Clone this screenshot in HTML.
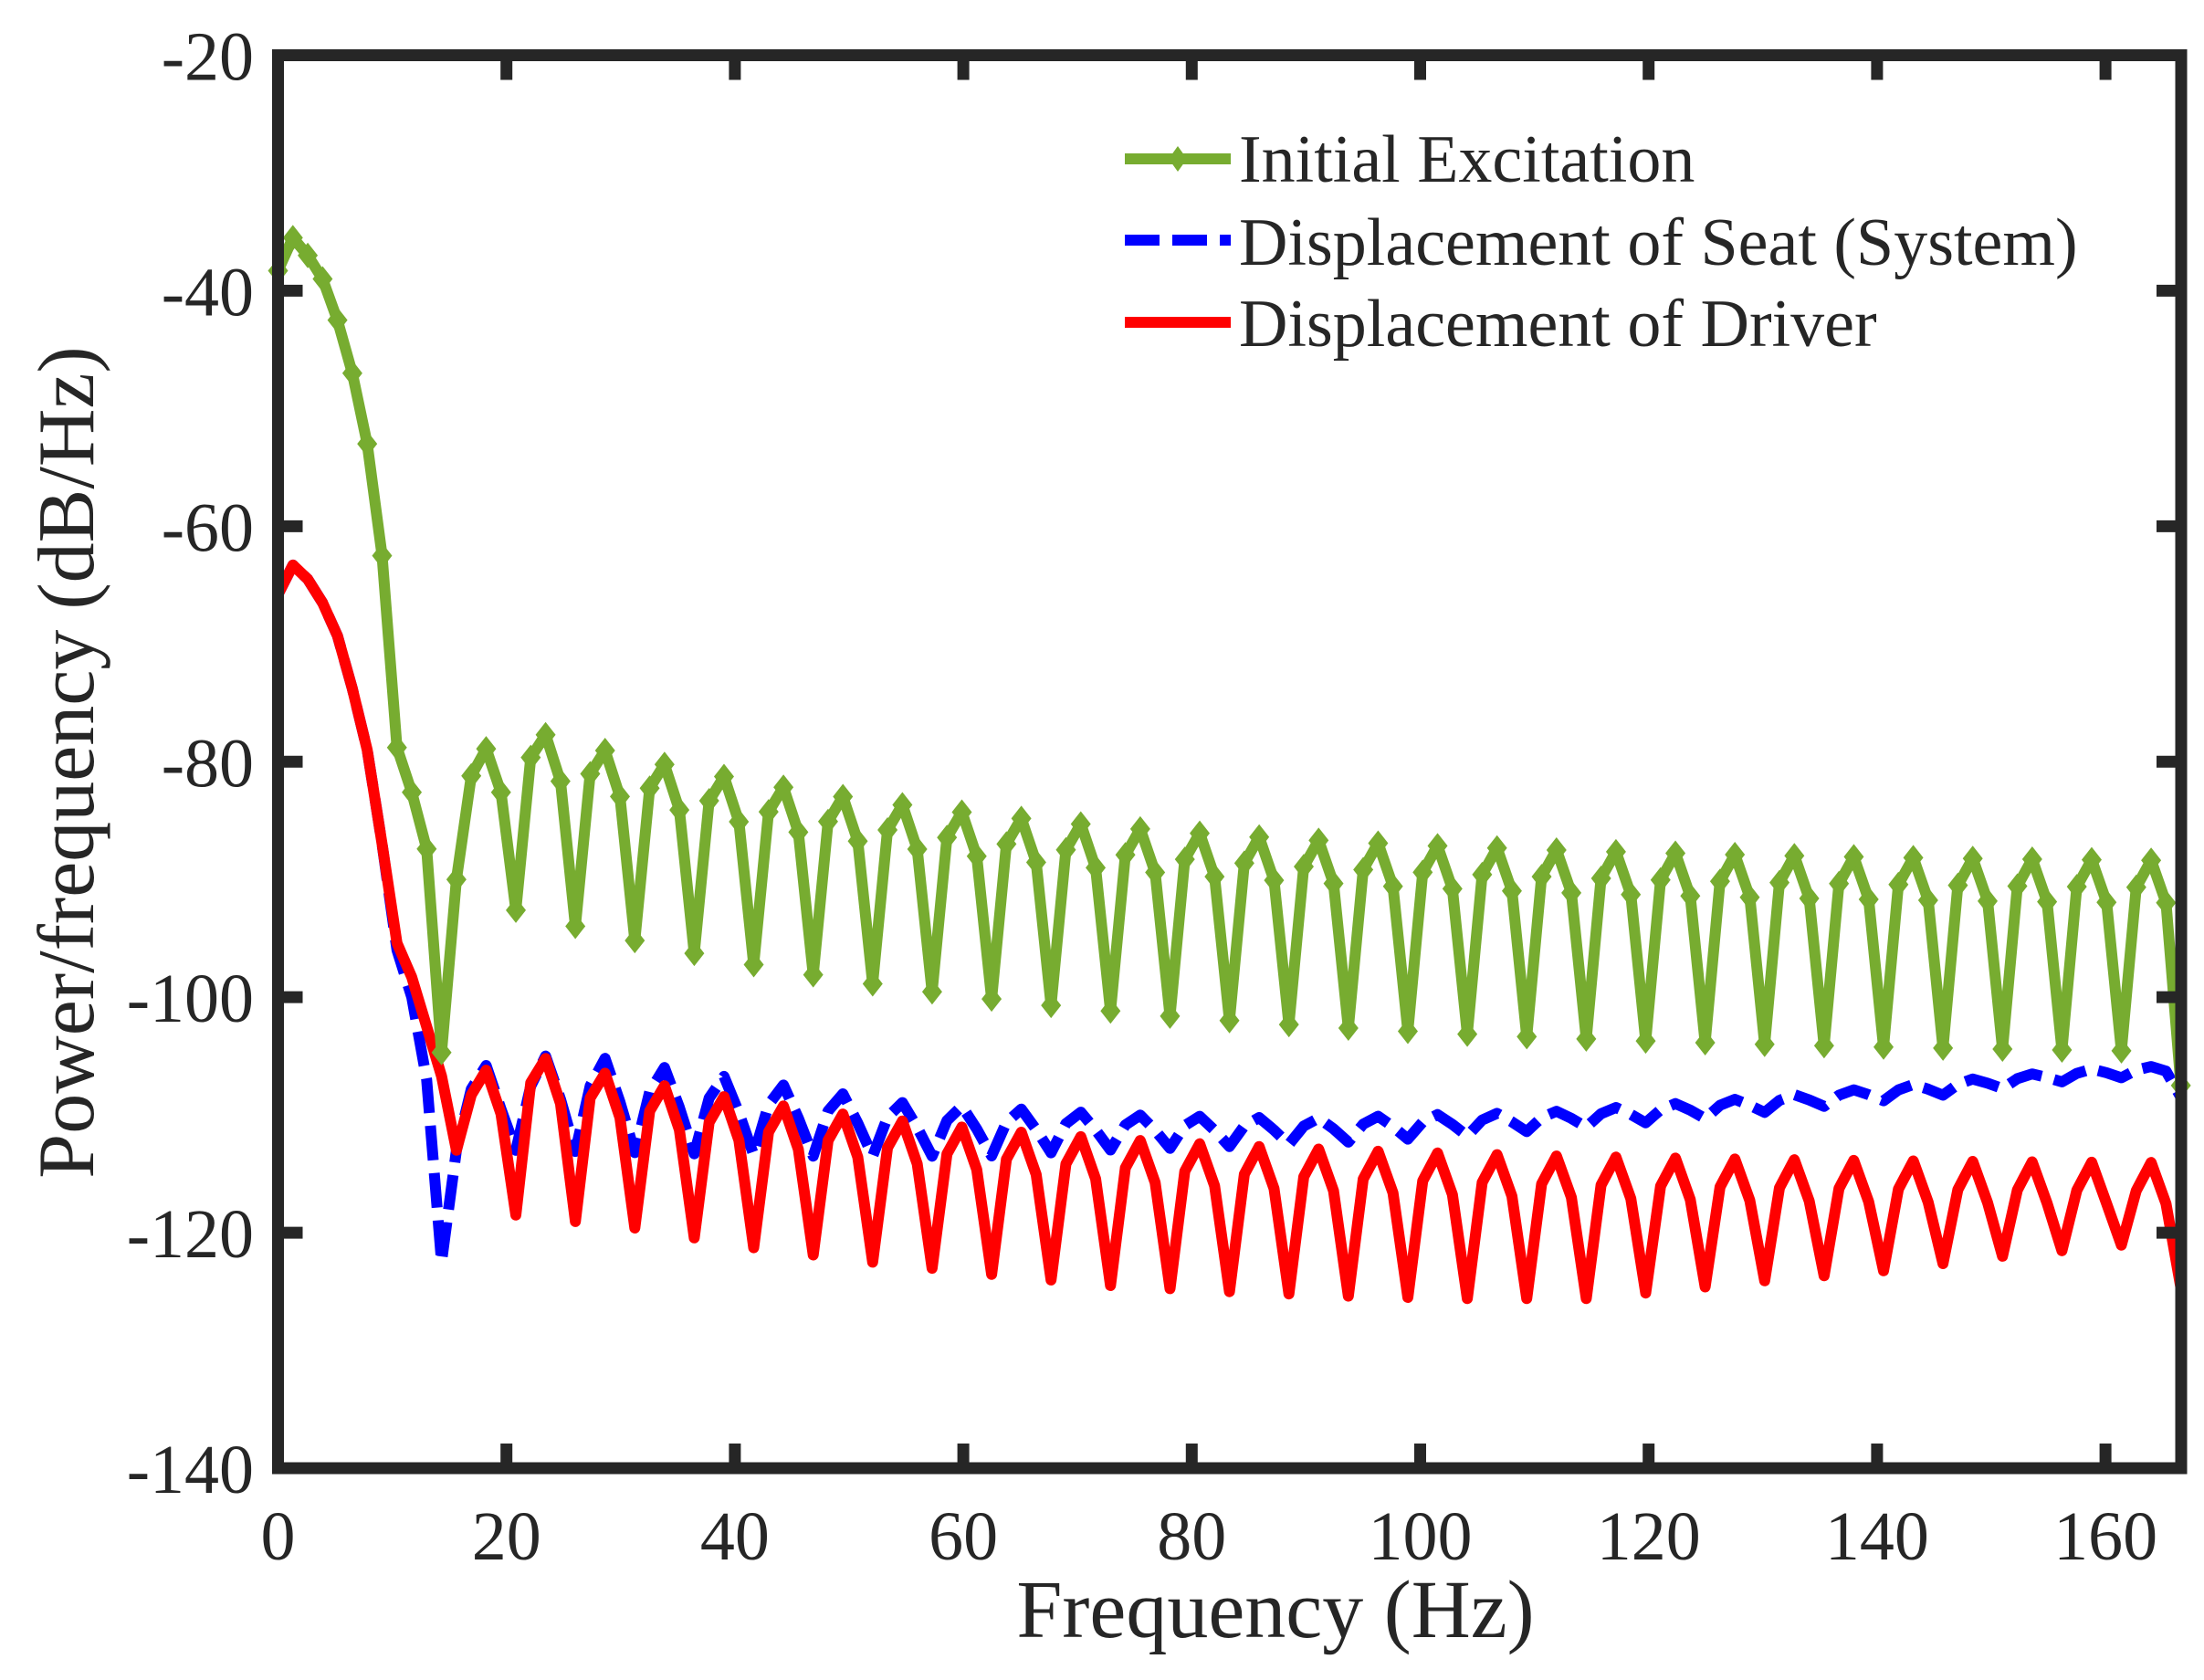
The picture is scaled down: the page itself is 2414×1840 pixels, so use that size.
<!DOCTYPE html>
<html><head><meta charset="utf-8"><style>
html,body{margin:0;padding:0;background:#fff;}
svg{display:block;}
text{font-family:"Liberation Serif","Times New Roman",serif;fill:#262626;}
</style></head><body>
<svg id="s" width="2414" height="1840" xmlns="http://www.w3.org/2000/svg">
<rect width="2414" height="1840" fill="#fff"/>
<g id="data"></g>
<g id="axes"></g>
<g font-size="74">
<line x1="1232" y1="174" x2="1348" y2="174" stroke="#77AC30" stroke-width="12"/>
<path d="M1290 160 L1300 174 L1290 188 L1280 174 Z" fill="#77AC30"/>
<line x1="1232" y1="263" x2="1348" y2="263" stroke="#0000FF" stroke-width="12" stroke-dasharray="38 14"/>
<line x1="1232" y1="353" x2="1348" y2="353" stroke="#FF0000" stroke-width="12"/>
<text x="1357" y="199">Initial Excitation</text>
<text x="1357" y="290">Displacement of Seat (System)</text>
<text x="1357" y="379">Displacement of Driver</text>
</g>
<text x="1397" y="1793" font-size="90" text-anchor="middle">Frequency (Hz)</text>
<text transform="translate(102,835) rotate(-90)" font-size="88" text-anchor="middle">Power/frequency (dB/Hz)</text>
</svg>
<script>
var X0=304.5,SX=12.51,Y0=60.5,SY=12.896;
function px(f){return X0+f*SX;}
function py(v){return Y0+(-20-v)*SY;}
function interp(t,f){if(f<=t[0][0])return t[0][1];for(var i=1;i<t.length;i++){if(f<=t[i][0]){var a=t[i-1],b=t[i];return a[1]+(b[1]-a[1])*(f-a[0])/(b[0]-a[0]);}}return t[t.length-1][1];}
var N=128,h=166.6/N;
var g=[],r=[],b=[];
var gE=[-38.3,-35.5,-37,-39,-42.5,-47,-53,-62.5,-78.8,-82.6,-87.4,-104.7,-90,-81.2,-78.9,-82.6];
var rE=[-65.8,-63.3,-64.5,-66.5,-69.3,-73.8,-79,-87,-95.4,-98.3,-102.5,-106.7,-113,-108.3,-106.2,-109.9];
var bE=[-65.8,-63.3,-64.5,-66.5,-69.3,-73.8,-79,-87,-96,-100,-107,-122.5,-113,-107.8,-105.8,-109.5];
var rD=[[20.8,-118.5],[31.2,-119.6],[41.8,-121.3],[52,-122.5],[62,-123.5],[73,-124.5],[83,-125],[94,-125.4],[104,-125.6],[115,-125.6],[120,-125.1],[130,-124.1],[141,-123.2],[151,-122],[162,-121]];
var bP=[[18.2,-105.8],[23.4,-105],[28.7,-105.2],[34,-106],[44.5,-107.5],[55,-109],[65,-109.5],[75,-110],[90,-110.3],[100,-110],[110,-109.8],[120,-109.2],[130,-108.5],[140,-107.7],[150,-106.8],[160,-106],[167,-105.8]];
var bD=[[20.8,-113],[47,-113.5],[62,-113.5],[72,-113],[83,-112.7],[94,-112.3],[104,-111.8],[115,-111],[125,-110.3],[135,-109.3],[146,-108.3],[156,-107.2],[162,-106.8]];
for(var i=0;i<=N;i++){
 var f=i*h,gv,rv,bv;
 if(i<16){gv=gE[i];rv=rE[i];bv=bE[i];}
 else{
  var m=(i-16)%4;
  var gP=-77.7-11*(1-Math.exp(-(f-23.4)/40)), gD=-92.6-12.5*(1-Math.exp(-(f-20.8)/45));
  var rP=-105.2-9*(1-Math.exp(-(f-23.4)/35)), rd=interp(rD,f);
  var bp=interp(bP,f), bd=interp(bD,f);
  if(m==0){gv=gD;rv=rd;bv=bd;}
  else if(m==1){gv=gP-2.3;rv=rP-2.4;bv=bp-0.3*(bp-bd);}
  else if(m==2){gv=gP;rv=rP;bv=bp;}
  else {gv=gP-3.6;rv=rP-3.5;bv=bp-0.45*(bp-bd);}
  if(i==N){gv=-107.5;rv=-124.7;bv=-108.5;}
 }
 g.push([px(f),py(gv)]);r.push([px(f),py(rv)]);b.push([px(f),py(bv)]);
}
function pts(a){return a.map(function(p){return p[0].toFixed(1)+","+p[1].toFixed(1);}).join(" ");}
var s='';
s+='<polyline points="'+pts(b)+'" fill="none" stroke="#0000FF" stroke-width="12" stroke-dasharray="38 14" stroke-linejoin="round"/>';
s+='<polyline points="'+pts(r)+'" fill="none" stroke="#FF0000" stroke-width="12" stroke-linejoin="round"/>';
s+='<polyline points="'+pts(g)+'" fill="none" stroke="#77AC30" stroke-width="12" stroke-linejoin="round"/>';
g.forEach(function(p){var x=p[0],y=p[1];s+='<path d="M'+x+' '+(y-14)+' L'+(x+11)+' '+y+' L'+x+' '+(y+14)+' L'+(x-11)+' '+y+' Z" fill="#77AC30"/>';});
document.getElementById('data').innerHTML=s;
var a='';
var L=304.5,R=2389,T=60.5,B=1608;
a+='<rect x="'+L+'" y="'+T+'" width="'+(R-L)+'" height="'+(B-T)+'" fill="none" stroke="#262626" stroke-width="13"/>';
for(var k=0;k<=160;k+=20){var x=px(k);
 a+='<line x1="'+x+'" y1="'+B+'" x2="'+x+'" y2="'+(B-27)+'" stroke="#262626" stroke-width="13"/>';
 a+='<line x1="'+x+'" y1="'+T+'" x2="'+x+'" y2="'+(T+27)+'" stroke="#262626" stroke-width="13"/>';
 a+='<text x="'+x+'" y="1708" font-size="76" text-anchor="middle">'+k+'</text>';}
for(var v=-140;v<=-20;v+=20){var y=py(v);
 a+='<line x1="'+L+'" y1="'+y+'" x2="'+(L+27)+'" y2="'+y+'" stroke="#262626" stroke-width="13"/>';
 a+='<line x1="'+R+'" y1="'+y+'" x2="'+(R-27)+'" y2="'+y+'" stroke="#262626" stroke-width="13"/>';
 a+='<text x="278" y="'+(y+27)+'" font-size="76" text-anchor="end">'+v+'</text>';}
document.getElementById('axes').innerHTML=a;
</script>
</body></html>
